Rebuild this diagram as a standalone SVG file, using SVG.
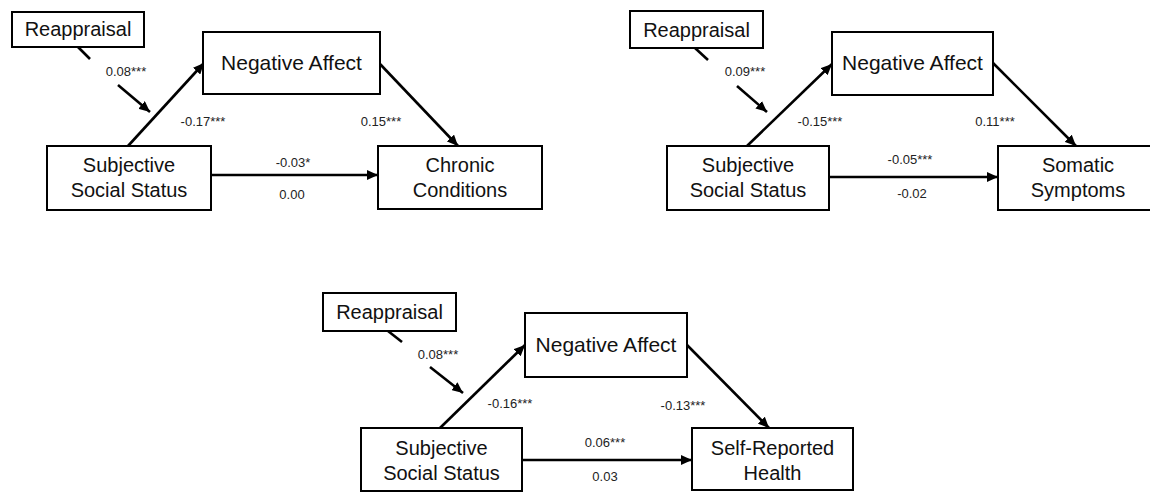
<svg xmlns="http://www.w3.org/2000/svg" width="1150" height="492" viewBox="0 0 1150 492">
<style>
.box{fill:#fff;stroke:#000;stroke-width:2}
.lbl{font-family:"Liberation Sans",Arial,sans-serif;font-size:20px;fill:#111;text-anchor:middle}
.na{font-size:21px}
.coef{font-family:"Liberation Sans",Arial,sans-serif;font-size:13px;fill:#222;text-anchor:middle}
.arr{stroke:#000;stroke-width:2.6;fill:none}
</style>
<defs>
<marker id="ah" markerUnits="userSpaceOnUse" markerWidth="12" markerHeight="10" refX="11" refY="5" orient="auto">
<path d="M0,0 L11,5 L0,10 z" fill="#000"/>
</marker>
</defs>
<rect width="1150" height="492" fill="#fff"/>

<g id="connectors">
<!-- top-left -->
<line class="arr" x1="128" y1="146" x2="204" y2="63" marker-end="url(#ah)"/>
<line class="arr" x1="380" y1="64" x2="458" y2="146" marker-end="url(#ah)"/>
<line class="arr" x1="78" y1="47" x2="90" y2="59"/>
<line class="arr" x1="118" y1="85" x2="150" y2="112" marker-end="url(#ah)"/>
<line class="arr" x1="211" y1="175" x2="378" y2="175" marker-end="url(#ah)"/>
<!-- top-right -->
<line class="arr" x1="747" y1="146" x2="832" y2="64" marker-end="url(#ah)"/>
<line class="arr" x1="993" y1="63" x2="1076" y2="146" marker-end="url(#ah)"/>
<line class="arr" x1="695" y1="48" x2="708" y2="60"/>
<line class="arr" x1="737" y1="86" x2="767" y2="112" marker-end="url(#ah)"/>
<line class="arr" x1="829" y1="177" x2="998" y2="177" marker-end="url(#ah)"/>
<!-- bottom -->
<line class="arr" x1="440" y1="428" x2="525" y2="345" marker-end="url(#ah)"/>
<line class="arr" x1="687" y1="345" x2="769" y2="428" marker-end="url(#ah)"/>
<line class="arr" x1="388" y1="331" x2="402" y2="342"/>
<line class="arr" x1="430" y1="367" x2="463" y2="393" marker-end="url(#ah)"/>
<line class="arr" x1="522" y1="460" x2="692" y2="460" marker-end="url(#ah)"/>
</g>

<g id="coefficients">
<text class="coef" x="126" y="76">0.08***</text>
<text class="coef" x="203" y="126">-0.17***</text>
<text class="coef" x="381" y="126">0.15***</text>
<text class="coef" x="293" y="167">-0.03*</text>
<text class="coef" x="292" y="199">0.00</text>

<text class="coef" x="745" y="76">0.09***</text>
<text class="coef" x="820" y="126">-0.15***</text>
<text class="coef" x="995" y="126">0.11***</text>
<text class="coef" x="910" y="164">-0.05***</text>
<text class="coef" x="912" y="198">-0.02</text>

<text class="coef" x="438" y="359">0.08***</text>
<text class="coef" x="510" y="408">-0.16***</text>
<text class="coef" x="683" y="410">-0.13***</text>
<text class="coef" x="605" y="447">0.06***</text>
<text class="coef" x="605" y="481">0.03</text>
</g>

<!-- top-left diagram -->
<g id="tl-reappraisal"><rect class="box" x="12" y="12" width="132" height="35"/><text class="lbl" x="78" y="36">Reappraisal</text></g>
<g id="tl-negative-affect"><rect class="box" x="203" y="32" width="177" height="62"/><text class="lbl na" x="291.5" y="70">Negative Affect</text></g>
<g id="tl-sss"><rect class="box" x="47" y="146" width="164" height="64"/><text class="lbl" x="129" y="172">Subjective</text><text class="lbl" x="129" y="197">Social Status</text></g>
<g id="tl-chronic"><rect class="box" x="378" y="146" width="164" height="63"/><text class="lbl" x="460" y="172">Chronic</text><text class="lbl" x="460" y="197">Conditions</text></g>

<!-- top-right diagram -->
<g id="tr-reappraisal"><rect class="box" x="630" y="11" width="133" height="37"/><text class="lbl" x="696.5" y="37">Reappraisal</text></g>
<g id="tr-negative-affect"><rect class="box" x="832" y="32" width="161" height="63"/><text class="lbl na" x="912.5" y="70">Negative Affect</text></g>
<g id="tr-sss"><rect class="box" x="667" y="146" width="162" height="64"/><text class="lbl" x="748" y="172">Subjective</text><text class="lbl" x="748" y="197">Social Status</text></g>
<g id="tr-somatic"><rect class="box" x="998" y="146" width="162" height="64"/><text class="lbl" x="1078" y="172">Somatic</text><text class="lbl" x="1078" y="197">Symptoms</text></g>

<!-- bottom diagram -->
<g id="b-reappraisal"><rect class="box" x="323" y="293" width="133" height="38"/><text class="lbl" x="389.5" y="319">Reappraisal</text></g>
<g id="b-negative-affect"><rect class="box" x="525" y="313" width="162" height="64"/><text class="lbl na" x="606" y="352">Negative Affect</text></g>
<g id="b-sss"><rect class="box" x="361" y="428" width="161" height="63"/><text class="lbl" x="441.5" y="455">Subjective</text><text class="lbl" x="441.5" y="480">Social Status</text></g>
<g id="b-self-reported"><rect class="box" x="692" y="428" width="161" height="62"/><text class="lbl" x="772.5" y="455">Self-Reported</text><text class="lbl" x="772.5" y="480">Health</text></g>
</svg>
